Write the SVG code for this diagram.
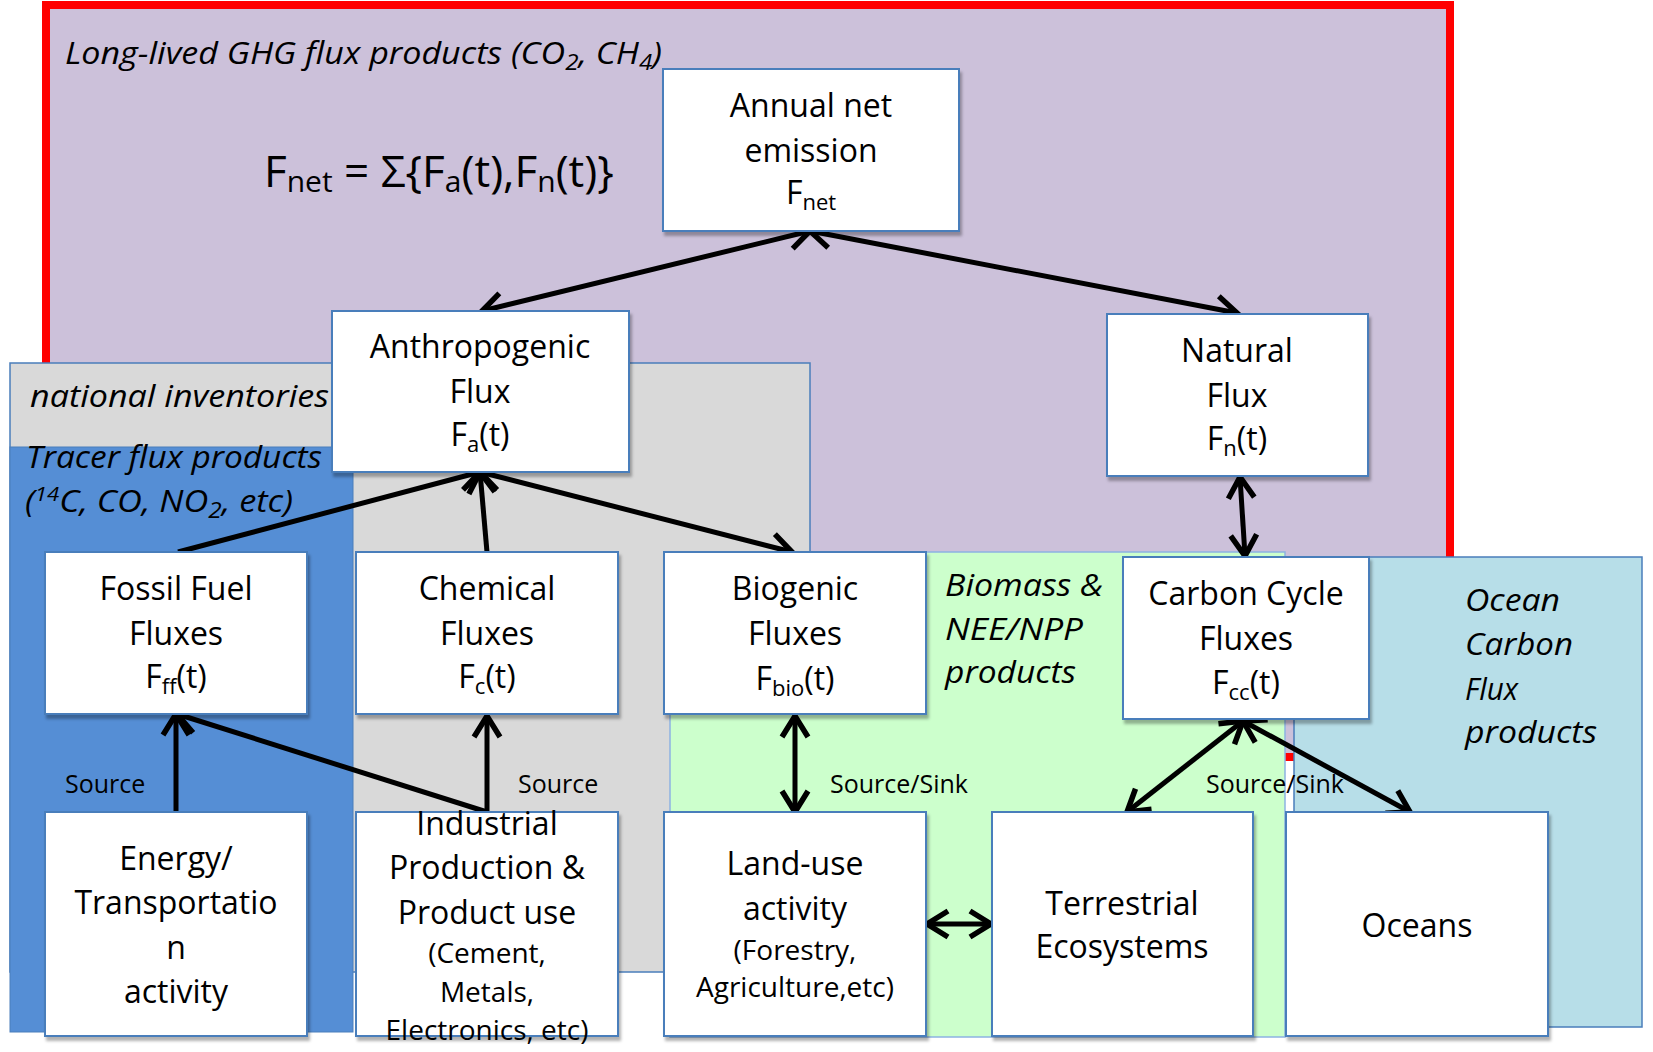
<svg xmlns="http://www.w3.org/2000/svg" width="1653" height="1052" viewBox="0 0 1653 1052">
<style>
.t{font-family:"Open Sans",Lato,"Liberation Sans",sans-serif;fill:#000;}
.b{font-size:32px;text-anchor:middle;}
.s{font-size:28px;text-anchor:middle;}
.i{font-size:31px;font-style:italic;}
.lab{font-size:25px;}
.node{fill:#fff;stroke:#4A7EBB;stroke-width:2;filter:url(#sh);}
.ar{fill:none;stroke:#000;stroke-width:5;}
</style>
<defs>
<filter id="sh" x="-5%" y="-5%" width="115%" height="115%">
<feDropShadow dx="2" dy="4" stdDeviation="1.5" flood-color="#000" flood-opacity="0.3"/>
</filter>
<marker id="ah" viewBox="0 0 34 34" refX="29" refY="17" markerWidth="34" markerHeight="34" markerUnits="userSpaceOnUse" orient="auto-start-reverse" overflow="visible">
<path d="M8,4 L29,17 L8,30" fill="none" stroke="#000" stroke-width="5.5"/>
</marker>
</defs>

<g id="regions">
<rect id="ghg-region" x="46" y="5" width="1404" height="752" fill="#CCC1DA" stroke="#FF0000" stroke-width="8"/>
<text class="t i" x="65" y="64" textLength="597" lengthAdjust="spacingAndGlyphs">Long-lived GHG flux products (CO<tspan font-size="22" dy="6">2</tspan><tspan dy="-6">, CH</tspan><tspan font-size="22" dy="6">4</tspan><tspan dy="-6">)</tspan></text>
<text class="t" x="264" y="187" font-size="44">F<tspan font-size="30" dy="5">net</tspan><tspan dy="-5"> = Σ{F</tspan><tspan font-size="30" dy="5">a</tspan><tspan dy="-5">(t),F</tspan><tspan font-size="30" dy="5">n</tspan><tspan dy="-5">(t)}</tspan></text>
<rect id="inventories-region" x="10" y="363" width="800" height="609" fill="#D9D9D9" stroke="#4A7EBB" stroke-width="1.5"/>
<text class="t i" x="30" y="407" textLength="299" lengthAdjust="spacingAndGlyphs">national inventories</text>
<rect id="tracer-region" x="10" y="447" width="343" height="585" fill="#558ED5" stroke="#4A7EBB" stroke-width="1"/>
<text class="t i" x="26" y="468" textLength="296" lengthAdjust="spacingAndGlyphs">Tracer flux products</text>
<text class="t i" x="25" y="512" textLength="268" lengthAdjust="spacingAndGlyphs">(<tspan font-size="20" dy="-11">14</tspan><tspan dy="11">C, CO, NO</tspan><tspan font-size="22" dy="6">2</tspan><tspan dy="-6">, etc)</tspan></text>
<rect id="biomass-region" x="670" y="552" width="615" height="485" fill="#CCFFCC" stroke="#8DB3E2" stroke-width="1.5"/>
<text class="t i" x="945" y="596" textLength="158" lengthAdjust="spacingAndGlyphs">Biomass &amp;</text>
<text class="t i" x="945" y="640" textLength="138" lengthAdjust="spacingAndGlyphs">NEE/NPP</text>
<text class="t i" x="945" y="683" textLength="131" lengthAdjust="spacingAndGlyphs">products</text>
<rect id="ocean-region" x="1294" y="557" width="348" height="470" fill="#B7DEE8" stroke="#4A7EBB" stroke-width="1.5"/>
<text class="t i" x="1465" y="611" textLength="95" lengthAdjust="spacingAndGlyphs">Ocean</text>
<text class="t i" x="1465" y="655" textLength="108" lengthAdjust="spacingAndGlyphs">Carbon</text>
<text class="t i" x="1465" y="700" textLength="53" lengthAdjust="spacingAndGlyphs">Flux</text>
<text class="t i" x="1465" y="743" textLength="132" lengthAdjust="spacingAndGlyphs">products</text>
</g>

<g id="connectors">
<line class="ar" x1="810" y1="231" x2="482" y2="311" marker-start="url(#ah)" marker-end="url(#ah)"/>
<line class="ar" x1="810" y1="231" x2="1237" y2="313" marker-start="url(#ah)" marker-end="url(#ah)"/>
<line class="ar" x1="1240" y1="477" x2="1245" y2="556" marker-start="url(#ah)" marker-end="url(#ah)"/>
<line class="ar" x1="178" y1="552" x2="480" y2="472" marker-end="url(#ah)"/>
<line class="ar" x1="487" y1="552" x2="480" y2="472" marker-end="url(#ah)"/>
<line class="ar" x1="480" y1="472" x2="792" y2="552" marker-start="url(#ah)" marker-end="url(#ah)"/>
<line class="ar" x1="176" y1="812" x2="176" y2="714" marker-end="url(#ah)"/>
<line class="ar" x1="487" y1="812" x2="177" y2="714" marker-end="url(#ah)"/>
<line class="ar" x1="487" y1="812" x2="487" y2="716" marker-end="url(#ah)"/>
<line class="ar" x1="795" y1="716" x2="795" y2="812" marker-start="url(#ah)" marker-end="url(#ah)"/>
<line class="ar" x1="927" y1="924" x2="991" y2="924" marker-start="url(#ah)" marker-end="url(#ah)"/>
<line class="ar" x1="1243" y1="721" x2="1127" y2="812" marker-start="url(#ah)" marker-end="url(#ah)"/>
<line class="ar" x1="1243" y1="721" x2="1410" y2="812" marker-start="url(#ah)" marker-end="url(#ah)"/>
<text class="t lab" x="65" y="793">Source</text>
<text class="t lab" x="518" y="793">Source</text>
<text class="t lab" x="830" y="793">Source/Sink</text>
<text class="t lab" x="1206" y="793">Source/Sink</text>
</g>

<g id="annual">
<rect class="node" x="663" y="69" width="296" height="162"/>
<text class="t b" x="811" y="117">Annual net</text>
<text class="t b" x="811" y="162">emission</text>
<text class="t b" x="811" y="204">F<tspan font-size="22" dy="6">net</tspan></text>
</g>
<g id="anthropogenic">
<rect class="node" x="332" y="311" width="297" height="161"/>
<text class="t b" x="480" y="358">Anthropogenic</text>
<text class="t b" x="480" y="403">Flux</text>
<text class="t b" x="480" y="446">F<tspan font-size="22" dy="6">a</tspan><tspan dy="-6">(t)</tspan></text>
</g>
<g id="natural">
<rect class="node" x="1107" y="314" width="261" height="162"/>
<text class="t b" x="1237" y="362">Natural</text>
<text class="t b" x="1237" y="407">Flux</text>
<text class="t b" x="1237" y="450">F<tspan font-size="22" dy="6">n</tspan><tspan dy="-6">(t)</tspan></text>
</g>
<g id="fossil">
<rect class="node" x="45" y="552" width="262" height="162"/>
<text class="t b" x="176" y="600">Fossil Fuel</text>
<text class="t b" x="176" y="645">Fluxes</text>
<text class="t b" x="176" y="688">F<tspan font-size="22" dy="6">ff</tspan><tspan dy="-6">(t)</tspan></text>
</g>
<g id="chemical">
<rect class="node" x="356" y="552" width="262" height="162"/>
<text class="t b" x="487" y="600">Chemical</text>
<text class="t b" x="487" y="645">Fluxes</text>
<text class="t b" x="487" y="688">F<tspan font-size="22" dy="6">c</tspan><tspan dy="-6">(t)</tspan></text>
</g>
<g id="biogenic">
<rect class="node" x="664" y="552" width="262" height="162"/>
<text class="t b" x="795" y="600">Biogenic</text>
<text class="t b" x="795" y="645">Fluxes</text>
<text class="t b" x="795" y="690">F<tspan font-size="22" dy="6">bio</tspan><tspan dy="-6">(t)</tspan></text>
</g>
<g id="carboncycle">
<rect class="node" x="1123" y="557" width="246" height="162"/>
<text class="t b" x="1246" y="605">Carbon Cycle</text>
<text class="t b" x="1246" y="650">Fluxes</text>
<text class="t b" x="1246" y="694">F<tspan font-size="22" dy="6">cc</tspan><tspan dy="-6">(t)</tspan></text>
</g>
<g id="energy">
<rect class="node" x="45" y="812" width="262" height="224"/>
<text class="t b" x="176" y="870">Energy/</text>
<text class="t b" x="176" y="914">Transportatio</text>
<text class="t b" x="176" y="959">n</text>
<text class="t b" x="176" y="1003">activity</text>
</g>
<g id="industrial">
<rect class="node" x="356" y="812" width="262" height="224"/>
<text class="t b" x="487" y="835">Industrial</text>
<text class="t b" x="487" y="879">Production &amp;</text>
<text class="t b" x="487" y="924">Product use</text>
<text class="t s" x="487" y="963">(Cement,</text>
<text class="t s" x="487" y="1002">Metals,</text>
<text class="t s" x="487" y="1040">Electronics, etc)</text>
</g>
<g id="landuse">
<rect class="node" x="664" y="812" width="262" height="224"/>
<text class="t b" x="795" y="875">Land-use</text>
<text class="t b" x="795" y="920">activity</text>
<text class="t s" x="795" y="960">(Forestry,</text>
<text class="t s" x="795" y="997">Agriculture,etc)</text>
</g>
<g id="terrestrial">
<rect class="node" x="992" y="812" width="261" height="224"/>
<text class="t b" x="1122" y="915">Terrestrial</text>
<text class="t b" x="1122" y="958">Ecosystems</text>
</g>
<g id="oceans">
<rect class="node" x="1286" y="812" width="262" height="224"/>
<text class="t b" x="1417" y="937">Oceans</text>
</g>
</svg>
